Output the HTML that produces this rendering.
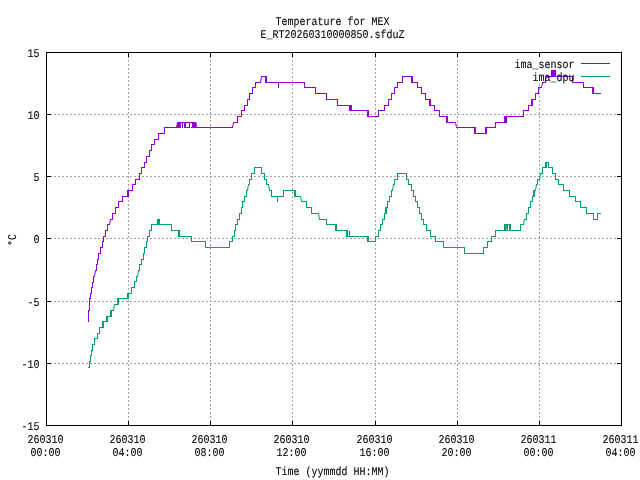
<!DOCTYPE html>
<html lang="en">
<head>
<meta charset="utf-8">
<title>Temperature for MEX</title>
<style>
html,body{margin:0;padding:0;background:#fff;}
body{width:640px;height:480px;overflow:hidden;}
svg{display:block;}
text{font-family:"Liberation Mono","DejaVu Sans Mono",monospace;font-size:12px;fill:#000;white-space:pre;text-rendering:geometricPrecision;}
.ce{shape-rendering:crispEdges;}
</style>
</head>
<body>
<svg width="640" height="480" viewBox="0 0 640 480">
<rect width="640" height="480" fill="#fff"/>
<g class="ce" fill="none" stroke="#a0a0a0" stroke-width="1" stroke-dasharray="2 2">
<path d="M46,114.5 H622"/>
<path d="M46,176.5 H622"/>
<path d="M46,238.5 H622"/>
<path d="M46,301.5 H622"/>
<path d="M46,363.5 H622"/>
<path d="M128.5,426 V52"/>
<path d="M210.5,426 V52"/>
<path d="M292.5,426 V52"/>
<path d="M375.5,426 V52"/>
<path d="M457.5,426 V52"/>
<path d="M539.5,426 V52"/>
</g>
<g class="ce" fill="#000">
<rect x="46" y="52" width="5" height="1"/><rect x="617" y="52" width="5" height="1"/>
<rect x="46" y="114" width="5" height="1"/><rect x="617" y="114" width="5" height="1"/>
<rect x="46" y="176" width="5" height="1"/><rect x="617" y="176" width="5" height="1"/>
<rect x="46" y="238" width="5" height="1"/><rect x="617" y="238" width="5" height="1"/>
<rect x="46" y="301" width="5" height="1"/><rect x="617" y="301" width="5" height="1"/>
<rect x="46" y="363" width="5" height="1"/><rect x="617" y="363" width="5" height="1"/>
<rect x="46" y="425" width="5" height="1"/><rect x="617" y="425" width="5" height="1"/>
<rect x="46" y="421" width="1" height="5"/><rect x="46" y="52" width="1" height="5"/>
<rect x="128" y="421" width="1" height="5"/><rect x="128" y="52" width="1" height="5"/>
<rect x="210" y="421" width="1" height="5"/><rect x="210" y="52" width="1" height="5"/>
<rect x="292" y="421" width="1" height="5"/><rect x="292" y="52" width="1" height="5"/>
<rect x="375" y="421" width="1" height="5"/><rect x="375" y="52" width="1" height="5"/>
<rect x="457" y="421" width="1" height="5"/><rect x="457" y="52" width="1" height="5"/>
<rect x="539" y="421" width="1" height="5"/><rect x="539" y="52" width="1" height="5"/>
<rect x="621" y="421" width="1" height="5"/><rect x="621" y="52" width="1" height="5"/>
</g>
<rect class="ce" x="539" y="57" width="1" height="27" fill="#fff"/>
<g class="ce">
<path d="M88.5,321.5 V310.5 H89.5 V298.5 H90.5 V293.5 H91.5 V287.5 H92.5 V282.5 H93.5 V276.5 H94.5 M95.5,270.5 H96.5 V264.5 H97.5 V259.5 H98.5 V253.5 H100.5 V247.5 H102.5 V241.5 H103.5 V236.5 H105.5 V230.5 H107.5 V224.5 H109.5 M110.5,219.5 H112.5 V213.5 H115.5 V207.5 H118.5 V201.5 H122.5 V196.5 H128.5 V190.5 H132.5 V184.5 H135.5 V179.5 H139.5 V173.5 H141.5 V167.5 H144.5 V162.5 H146.5 V156.5 H149.5 V150.5 H151.5 V144.5 H154.5 V139.5 H158.5 V133.5 H164.5 V127.5 H232.5 M233.5,122.5 H237.5 V116.5 H241.5 V110.5 H244.5 V105.5 H247.5 V99.5 H249.5 V93.5 H252.5 V87.5 H255.5 V82.5 H260.5 M261.5,76.5 H266.5 V82.5 H278.5 V87.5 V82.5 H304.5 V87.5 H315.5 V93.5 H326.5 V99.5 H337.5 V105.5 H350.5 V110.5 H368.5 V116.5 H378.5 V110.5 H384.5 V105.5 H388.5 V99.5 H391.5 V93.5 H394.5 V87.5 H397.5 V82.5 H402.5 V76.5 H412.5 V82.5 H417.5 V87.5 H421.5 V93.5 H425.5 V99.5 H430.5 V105.5 H434.5 V110.5 H439.5 V116.5 H447.5 V122.5 H455.5 M456.5,127.5 H475.5 V133.5 H486.5 V127.5 H495.5 V122.5 H506.5 V116.5 H523.5 V110.5 H528.5 V105.5 H532.5 V99.5 H535.5 V93.5 H538.5 V87.5 H541.5 M542.5,82.5 H545.5 V76.5 H572.5 V82.5 H583.5 V87.5 H593.5 V93.5 H600.5" fill="none" stroke="#9400d3" stroke-width="1" stroke-linecap="square" stroke-linejoin="miter"/>
<rect x="127" y="190" width="2" height="7" fill="#9400d3"/><rect x="265" y="76" width="2" height="7" fill="#9400d3"/><rect x="349" y="105" width="3" height="6" fill="#9400d3"/><rect x="367" y="110" width="2" height="7" fill="#9400d3"/><rect x="411" y="76" width="2" height="7" fill="#9400d3"/><rect x="429" y="99" width="2" height="7" fill="#9400d3"/><rect x="446" y="116" width="2" height="7" fill="#9400d3"/><rect x="474" y="127" width="2" height="7" fill="#9400d3"/><rect x="485" y="127" width="2" height="7" fill="#9400d3"/><rect x="504" y="116" width="3" height="7" fill="#9400d3"/><rect x="531" y="99" width="2" height="7" fill="#9400d3"/><rect x="592" y="87" width="2" height="7" fill="#9400d3"/><rect x="177" y="122" width="19" height="1" fill="#9400d3"/><rect x="177" y="122" width="4" height="6" fill="#9400d3"/><rect x="182" y="122" width="1" height="6" fill="#9400d3"/><rect x="184" y="122" width="2" height="6" fill="#9400d3"/><rect x="189" y="122" width="1" height="6" fill="#9400d3"/><rect x="192" y="122" width="4" height="6" fill="#9400d3"/><rect x="551" y="70" width="5" height="7" fill="#9400d3"/>
<rect x="181" y="127" width="1" height="1" fill="#fff"/><rect x="183" y="127" width="1" height="1" fill="#fff"/><rect x="190" y="127" width="1" height="1" fill="#fff"/>
<path d="M88.5,367.5 H89.5 V361.5 H90.5 V355.5 H91.5 V350.5 H92.5 V344.5 H94.5 V338.5 H97.5 V333.5 H99.5 V327.5 H102.5 V321.5 H106.5 V316.5 H110.5 V310.5 H113.5 M114.5,304.5 H117.5 V298.5 H128.5 V293.5 H131.5 V287.5 H134.5 V281.5 H136.5 V276.5 H137.5 M138.5,270.5 H139.5 V264.5 H141.5 V259.5 H143.5 V253.5 H144.5 V247.5 H146.5 V241.5 H147.5 V236.5 H149.5 V230.5 H151.5 V224.5 H171.5 V230.5 H179.5 V236.5 H191.5 V241.5 H205.5 V247.5 H229.5 V241.5 H232.5 V236.5 H234.5 V230.5 H235.5 V224.5 H237.5 V219.5 H239.5 V213.5 H241.5 V207.5 H242.5 V201.5 H244.5 V196.5 H246.5 V190.5 H247.5 M248.5,184.5 H249.5 V179.5 H251.5 V173.5 H254.5 V167.5 H261.5 V173.5 H264.5 V179.5 H266.5 V184.5 H268.5 M269.5,190.5 H271.5 V196.5 H277.5 V201.5 V196.5 H283.5 V190.5 H295.5 V196.5 H300.5 M301.5,201.5 H306.5 V207.5 H311.5 V213.5 H318.5 M319.5,219.5 H326.5 V224.5 H336.5 V230.5 H347.5 V236.5 H349.5 V230.5 V236.5 H368.5 V241.5 H375.5 V236.5 H378.5 V230.5 H380.5 V224.5 H382.5 V219.5 H384.5 V213.5 H386.5 V207.5 H387.5 V201.5 H389.5 V196.5 H391.5 V190.5 H392.5 M393.5,184.5 H394.5 V179.5 H397.5 V173.5 H406.5 V179.5 H408.5 V184.5 H411.5 V190.5 H413.5 V196.5 H415.5 V201.5 H417.5 V207.5 H419.5 V213.5 H421.5 V219.5 H423.5 V224.5 H426.5 V230.5 H430.5 V236.5 H435.5 V241.5 H443.5 V247.5 H464.5 V253.5 H483.5 V247.5 H487.5 V241.5 H491.5 V236.5 H495.5 V230.5 H520.5 V224.5 H523.5 M524.5,219.5 H526.5 V213.5 H528.5 V207.5 H530.5 V201.5 H532.5 V196.5 H534.5 V190.5 H535.5 M536.5,184.5 H537.5 V179.5 H539.5 M540.5,173.5 H542.5 V167.5 H545.5 V162.5 H548.5 V167.5 H552.5 V173.5 H555.5 V179.5 H558.5 V184.5 H563.5 V190.5 H569.5 V196.5 H575.5 V201.5 H580.5 V207.5 H586.5 V213.5 H593.5 V219.5 H597.5 V213.5 H600.5" fill="none" stroke="#009e73" stroke-width="1" stroke-linecap="square" stroke-linejoin="miter"/>
<rect x="117" y="298" width="2" height="7" fill="#009e73"/><rect x="127" y="293" width="2" height="6" fill="#009e73"/><rect x="178" y="230" width="2" height="7" fill="#009e73"/><rect x="294" y="190" width="2" height="7" fill="#009e73"/><rect x="335" y="224" width="2" height="7" fill="#009e73"/><rect x="346" y="230" width="2" height="7" fill="#009e73"/><rect x="367" y="236" width="2" height="6" fill="#009e73"/><rect x="385" y="207" width="2" height="7" fill="#009e73"/><rect x="545" y="162" width="2" height="6" fill="#009e73"/><rect x="533" y="190" width="2" height="7" fill="#009e73"/><rect x="102" y="321" width="2" height="7" fill="#009e73"/><rect x="106" y="316" width="2" height="6" fill="#009e73"/><rect x="110" y="310" width="2" height="7" fill="#009e73"/><rect x="157" y="219" width="3" height="6" fill="#009e73"/><rect x="504" y="224" width="7" height="1" fill="#009e73"/><rect x="504" y="224" width="2" height="7" fill="#009e73"/><rect x="507" y="224" width="1" height="7" fill="#009e73"/><rect x="509" y="224" width="2" height="7" fill="#009e73"/>
<rect x="508" y="230" width="1" height="1" fill="#fff"/>
<rect x="581" y="63" width="29" height="1" fill="#9400d3"/><rect x="581" y="76" width="29" height="1" fill="#009e73"/>
</g>
<path d="M94.5,276.5 L95.5,270.5 M109.5,224.5 L110.5,219.5 M232.5,127.5 L233.5,122.5 M260.5,82.5 L261.5,76.5 M455.5,122.5 L456.5,127.5 M541.5,87.5 L542.5,82.5 M176.5,127.5 L177.5,122.5 M196,122.5 L196.5,127.5" fill="none" stroke="#9400d3" stroke-width="1" stroke-linecap="butt"/>
<path d="M113.5,310.5 L114.5,304.5 M137.5,276.5 L138.5,270.5 M247.5,190.5 L248.5,184.5 M268.5,184.5 L269.5,190.5 M300.5,196.5 L301.5,201.5 M318.5,213.5 L319.5,219.5 M392.5,190.5 L393.5,184.5 M523.5,224.5 L524.5,219.5 M535.5,190.5 L536.5,184.5 M539.5,179.5 L540.5,173.5 M506.5,224.5 L507.1,230.5" fill="none" stroke="#009e73" stroke-width="1" stroke-linecap="butt"/>
<rect class="ce" x="46.5" y="52.5" width="575" height="373" fill="none" stroke="#000" stroke-width="1"/>
<g stroke="#000" stroke-width="0.1">
<text transform="translate(275.5,25) scale(0.8332,0.9868)">Temperature for MEX</text>
<text transform="translate(260.5,38) scale(0.8332,0.9868)" dy="0 -0.3 0.3 0 0 0 0 0 0 0 0 0 0 0 0 0 0 0 0 0 0 0 0 0">E_RT20260310000850.sfduZ</text>
<text transform="translate(27.5,57) scale(0.8332,0.9868)">15</text>
<text transform="translate(27.5,119) scale(0.8332,0.9868)">10</text>
<text transform="translate(33.5,181) scale(0.8332,0.9868)">5</text>
<text transform="translate(33.5,243) scale(0.8332,0.9868)">0</text>
<text transform="translate(27.5,306) scale(0.8332,0.9868)">-5</text>
<text transform="translate(21.5,368) scale(0.8332,0.9868)">-10</text>
<text transform="translate(21.5,430) scale(0.8332,0.9868)">-15</text>
<text transform="translate(27.5,443) scale(0.8332,0.9868)">260310</text><text transform="translate(30.5,456) scale(0.8332,0.9868)">00:00</text>
<text transform="translate(109.5,443) scale(0.8332,0.9868)">260310</text><text transform="translate(112.5,456) scale(0.8332,0.9868)">04:00</text>
<text transform="translate(191.5,443) scale(0.8332,0.9868)">260310</text><text transform="translate(194.5,456) scale(0.8332,0.9868)">08:00</text>
<text transform="translate(273.5,443) scale(0.8332,0.9868)">260310</text><text transform="translate(276.5,456) scale(0.8332,0.9868)">12:00</text>
<text transform="translate(356.5,443) scale(0.8332,0.9868)">260310</text><text transform="translate(359.5,456) scale(0.8332,0.9868)">16:00</text>
<text transform="translate(438.5,443) scale(0.8332,0.9868)">260310</text><text transform="translate(441.5,456) scale(0.8332,0.9868)">20:00</text>
<text transform="translate(520.5,443) scale(0.8332,0.9868)">260311</text><text transform="translate(523.5,456) scale(0.8332,0.9868)">00:00</text>
<text transform="translate(602.5,443) scale(0.8332,0.9868)">260311</text><text transform="translate(605.5,456) scale(0.8332,0.9868)">04:00</text>
<text transform="translate(275.5,475) scale(0.8332,0.9868)">Time (yymmdd HH:MM)</text>
<text transform="translate(514.5,68) scale(0.8332,0.9868)" dy="0 0 0 -0.3 0.3 0 0 0 0 0">ima_sensor</text>
<text transform="translate(532.5,81) scale(0.8332,0.9868)" dy="0 0 0 -0.3 0.3 0 0">ima_dpu</text>
<text transform="translate(16,246) rotate(-90) scale(0.8332,0.9868)">°C</text>
</g>
</svg>
</body>
</html>
